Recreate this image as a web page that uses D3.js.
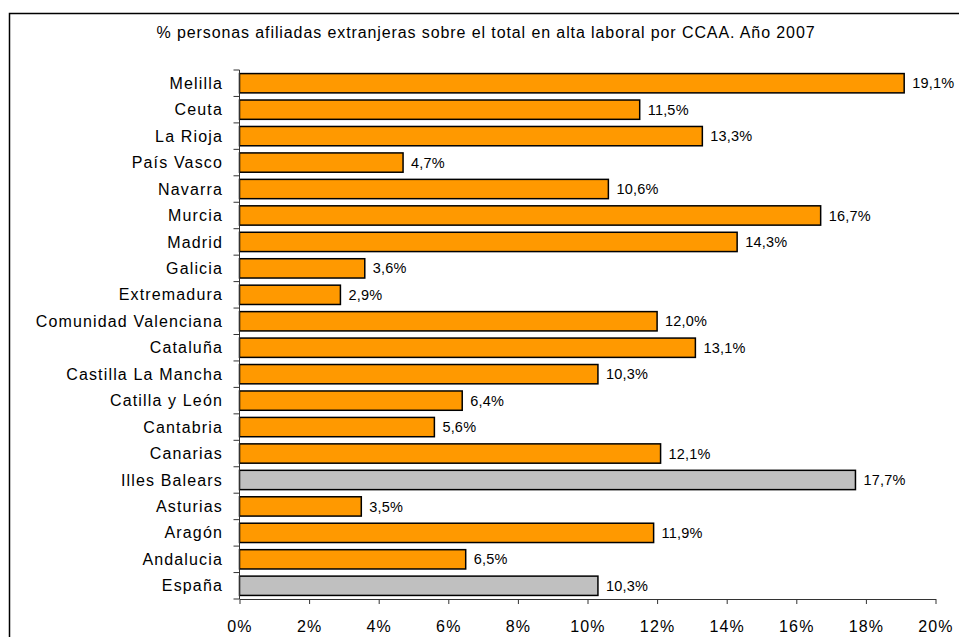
<!DOCTYPE html>
<html>
<head>
<meta charset="utf-8">
<script src="https://cdn.jsdelivr.net/npm/d3@7"></script>
<style>
  body { margin: 0; background: #fff; }
  svg { display: block; font-family: "Liberation Sans", Arial, sans-serif; }
  .lbl { font-size: 16px; letter-spacing: 1.15px; fill: #000; }
  .val { font-size: 14.5px; letter-spacing: 0.2px; fill: #000; }
</style>
</head>
<body>
<svg id="chart" width="959" height="637"></svg>
<script>
// data, top to bottom as in the picture
const regions = ["Melilla", "Ceuta", "La Rioja", "País Vasco", "Navarra", "Murcia", "Madrid",
  "Galicia", "Extremadura", "Comunidad Valenciana", "Cataluña", "Castilla La Mancha",
  "Catilla y León", "Cantabria", "Canarias", "Illes Balears", "Asturias", "Aragón",
  "Andalucia", "España"];
const shares = [19.1, 11.5, 13.3, 4.7, 10.6, 16.7, 14.3, 3.6, 2.9, 12.0, 13.1, 10.3,
  6.4, 5.6, 12.1, 17.7, 3.5, 11.9, 6.5, 10.3];
const highlighted = ["Illes Balears", "España"];
const xTicks = [0, 2, 4, 6, 8, 10, 12, 14, 16, 18, 20];
const title = "% personas afiliadas extranjeras sobre el total en alta laboral por CCAA. Año 2007";

const svg = d3.select("#chart");

// outer frame (runs past the right and bottom edges)
svg.append("rect")
  .attr("x", 9.5).attr("y", 13.5)
  .attr("width", 990).attr("height", 700)
  .attr("fill", "none").attr("stroke", "#000").attr("stroke-width", 1.5);

const x = d3.scaleLinear().domain([0, 20]).range([239.5, 935.5]);
const y = d3.scaleBand().domain(regions).range([70, 599])
  .paddingInner(0.27).paddingOuter(0.135);

const fmt = v => d3.format(".1f")(v).replace(".", ",") + "%";

svg.append("text")
  .attr("class", "lbl")
  .attr("x", 486).attr("y", 38)
  .attr("text-anchor", "middle")
  .style("letter-spacing", "0.9px")
  .text(title);

// bars
svg.append("g")
  .selectAll("rect")
  .data(regions)
  .join("rect")
  .attr("x", x(0))
  .attr("y", d => y(d))
  .attr("width", (d, i) => x(shares[i]) - x(0))
  .attr("height", y.bandwidth())
  .attr("fill", d => highlighted.includes(d) ? "#c0c0c0" : "#ff9900")
  .attr("stroke", "#000")
  .attr("stroke-width", 1.5);

// value labels
svg.append("g")
  .selectAll("text")
  .data(regions)
  .join("text")
  .attr("class", "val")
  .attr("x", (d, i) => x(shares[i]) + 8)
  .attr("y", d => y(d) + y.bandwidth() / 2)
  .attr("dy", "0.35em")
  .text((d, i) => fmt(shares[i]));

// y axis: line, ticks between categories, labels
const yAxis = svg.append("g");
yAxis.append("line")
  .attr("x1", x(0)).attr("x2", x(0))
  .attr("y1", 70).attr("y2", 599)
  .attr("stroke", "#333");
const bounds = regions.map(d => y(d) - y.step() * y.paddingInner() / 2).concat([599]);
yAxis.selectAll("line.tick")
  .data(bounds)
  .join("line")
  .attr("class", "tick")
  .attr("x1", x(0) - 6).attr("x2", x(0))
  .attr("y1", d => d).attr("y2", d => d)
  .attr("stroke", "#333");
yAxis.selectAll("text")
  .data(regions)
  .join("text")
  .attr("class", "lbl")
  .attr("x", 223)
  .attr("y", d => y(d) + y.bandwidth() / 2)
  .attr("dy", "0.35em")
  .attr("text-anchor", "end")
  .text(d => d);

// x axis
const xAxis = svg.append("g").attr("transform", "translate(0,599)")
  .call(d3.axisBottom(x).tickValues(xTicks).tickSize(5).tickSizeOuter(0).tickFormat(d => d + "%"));
xAxis.select(".domain").attr("stroke", "#333");
xAxis.selectAll(".tick line").attr("stroke", "#333");
xAxis.selectAll(".tick text")
  .attr("class", "lbl")
  .attr("font-family", null).attr("font-size", null)
  .attr("y", 27).attr("dy", "0.35em");
</script>
</body>
</html>
